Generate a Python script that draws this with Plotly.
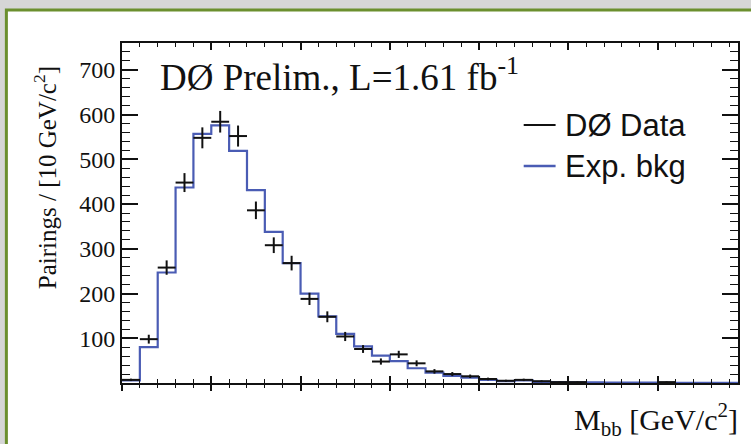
import numpy as np
import plotly.graph_objects as go

# ---- data (10 GeV bins, lower edges 0..340) ----
bin_edges = list(range(0, 360, 10))  # 36 edges -> 35 bins
data_counts = [7, 98, 258, 448, 548, 584, 552, 386, 308, 268, 188, 148, 104, 76, 48,
               64, 44, 26, 20, 15, 9, 5, 7, 4, 2, 2, None, None, None, None, 2, None, None, None, None]
bkg_counts = [6, 80, 247, 437, 557, 576, 519, 431, 338, 268, 200, 149, 110, 82, 61,
              49, 33, 23, 16, 12, 7, 4, 6, 2.5, 2, 1.5, 1.2, 1.0, 0.8, 0.7, 0.6, 0.5, 0.4, 0.4, 0.3]
y_tick_vals = [100, 200, 300, 400, 500, 600, 700]

centers = [(bin_edges[i] + bin_edges[i + 1]) / 2 for i in range(len(bkg_counts))]
half_w = [(bin_edges[i + 1] - bin_edges[i]) / 2 for i in range(len(bkg_counts))]
dx, dy, derr, dhw = [], [], [], []
for c, v, h in zip(centers, data_counts, half_w):
    if v is None:
        continue
    dx.append(c); dy.append(v); derr.append(float(np.sqrt(v))); dhw.append(h)

# ---- geometry helpers (pixels -> paper) ----
W, H = 751, 444
ML, MR, MT, MB = 122, 11, 43, 61
PW, PH = W - ML - MR, H - MT - MB
def px(x): return (x - ML) / PW
def py(y): return (H - MB - y) / PH

fig = go.Figure()

# expected background histogram (step)
fig.add_trace(go.Scatter(
    x=bin_edges, y=bkg_counts + [bkg_counts[-1]], mode="lines",
    line=dict(color="#4a5cb4", width=2.2, shape="hv"),
    showlegend=False, hoverinfo="skip", xaxis="x", yaxis="y"))

# data crosses
fig.add_trace(go.Scatter(
    x=dx, y=dy, mode="markers", marker=dict(size=1, color="rgba(0,0,0,0)"),
    error_x=dict(type="data", array=dhw, symmetric=True, color="#111", thickness=2, width=0),
    error_y=dict(type="data", array=derr, symmetric=True, color="#111", thickness=2, width=0),
    showlegend=False, hoverinfo="skip", xaxis="x2", yaxis="y"))

serif = "Liberation Serif"
sans = "Liberation Sans"

fig.update_layout(
    width=W, height=H,
    margin=dict(l=ML, r=MR, t=MT, b=MB, pad=0),
    paper_bgcolor="#d6d6d6", plot_bgcolor="white",
    showlegend=False,
    xaxis=dict(range=[0, 345], showline=True, linecolor="#111", linewidth=1.8, mirror="ticks",
               ticks="inside", ticklen=7, tickwidth=1.5, tickcolor="#111",
               tick0=0, dtick=50, showticklabels=False, showgrid=False, zeroline=False,
               minor=dict(ticks="inside", ticklen=4, tickwidth=1.3, tickcolor="#111", dtick=10, tick0=0, showgrid=False)),
    xaxis2=dict(range=[0, 345], overlaying="x", matches="x", anchor="y", side="bottom",
                showline=False, ticks="outside", ticklen=7, tickwidth=1.5, tickcolor="#111",
                tick0=0, dtick=50, showticklabels=False, showgrid=False, zeroline=False,
                minor=dict(ticks="outside", ticklen=4, tickwidth=1.3, tickcolor="#111", dtick=10, tick0=0, showgrid=False)),
    yaxis=dict(range=[0, 760], showline=True, linecolor="#111", linewidth=1.8, mirror="ticks",
               ticks="inside", ticklen=16, tickwidth=1.5, tickcolor="#111",
               tickmode="array", tickvals=y_tick_vals, ticktext=[str(v) for v in y_tick_vals],
               tickfont=dict(family=serif, size=24, color="#111"),
               showgrid=False, zeroline=False,
               minor=dict(ticks="inside", ticklen=8, tickwidth=1.3, tickcolor="#111",
                          tickmode="linear", tick0=0, dtick=20, showgrid=False)),
)

shapes = [
    dict(type="rect", xref="paper", yref="paper", x0=px(6), x1=px(800), y0=py(500), y1=py(10),
         fillcolor="white", line=dict(color="#6b8f2e", width=3), layer="below"),
    dict(type="line", xref="paper", yref="paper", x0=px(525), x1=px(557), y0=py(125), y1=py(125),
         line=dict(color="#111", width=2)),
    dict(type="line", xref="paper", yref="paper", x0=px(525), x1=px(557), y0=py(166), y1=py(166),
         line=dict(color="#4a5cb4", width=2.5)),
]
fig.update_layout(shapes=shapes)

ann = [
    dict(text="DØ Prelim., L=1.61 fb<sup>-1</sup>", x=px(158), y=py(74), xanchor="left", yanchor="middle",
         font=dict(family=serif, size=37, color="#111")),
    dict(text="DØ Data", x=px(564), y=py(125), xanchor="left", yanchor="middle",
         font=dict(family=sans, size=31, color="#111")),
    dict(text="Exp. bkg", x=px(564), y=py(166), xanchor="left", yanchor="middle",
         font=dict(family=sans, size=31, color="#111")),
    dict(text="Pairings / [10 GeV/c<sup>2</sup>]", x=px(45), y=py(178), xanchor="center", yanchor="middle",
         textangle=-90, font=dict(family=serif, size=25, color="#111")),
    dict(text="M<sub>bb</sub> [GeV/c<sup>2</sup>]", x=px(742), y=py(419), xanchor="right", yanchor="middle",
         font=dict(family=serif, size=30, color="#111")),
]
for a in ann:
    a.update(xref="paper", yref="paper", showarrow=False)
fig.update_layout(annotations=ann)

fig.write_html("out.html")
